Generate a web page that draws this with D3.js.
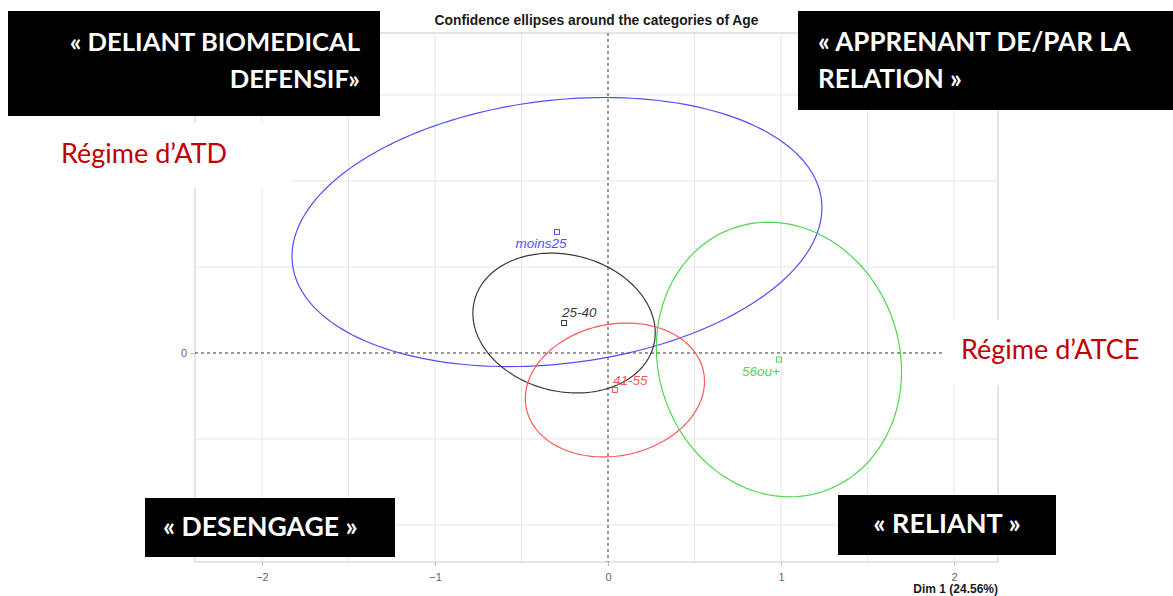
<!DOCTYPE html>
<html>
<head>
<meta charset="utf-8">
<script src="https://cdn.jsdelivr.net/npm/d3@7"></script>
<style>
  html, body { margin: 0; padding: 0; background: #fff; }
  svg { display: block; }
</style>
</head>
<body>
<svg id="chart" width="1173" height="596"></svg>
<script>
// Category coordinates on the first two dimensions
const categories = ["moins25", "25-40", "41-55", "56ou+"];
const dim1 = [-0.295, -0.254, 0.040, 0.988];
const dim2 = [0.703, 0.174, -0.215, -0.038];

// Confidence ellipse around each category: semi-axes and rotation (degrees)
const ellipseMajor = [1.540, 0.534, 0.523, 0.808];
const ellipseMinor = [0.765, 0.397, 0.382, 0.697];
const ellipseAngle = [7, -14, 12, -72];

const xTicks = [-2, -1, 0, 1, 2];
const yTicks = [0];
const xGrid = [-2, -1.5, -1, -0.5, 0.5, 1, 1.5, 2];
const yGrid = [-1, -0.5, 0.5, 1, 1.5];

const colors = ["#4f4fff", "#3a3a3a", "#ff5858", "#4fd64f"];
// where each category label sits relative to its point (px)
const labelPlacement = {
  "moins25": { dx: -16, dy: 16, anchor: "middle" },
  "25-40":   { dx: -2,  dy: -6, anchor: "start" },
  "41-55":   { dx: -2,  dy: -5, anchor: "start" },
  "56ou+":   { dx: 1,   dy: 16, anchor: "end" }
};

const svg = d3.select("#chart");
const panel = { left: 195, right: 998, top: 33, bottom: 562 };

const x = d3.scaleLinear().domain([-2.387, 2.254]).range([panel.left, panel.right]);
const y = d3.scaleLinear().domain([-1.215, 1.86]).range([panel.bottom, panel.top]);

// title
svg.append("text")
  .attr("x", (panel.left + panel.right) / 2).attr("y", 25)
  .attr("text-anchor", "middle")
  .style("font-family", "'Liberation Sans', Arial, sans-serif")
  .style("font-weight", "bold").style("font-size", "13.8px")
  .attr("fill", "#1a1a1a")
  .text("Confidence ellipses around the categories of Age");

// grid
const grid = svg.append("g").attr("stroke", "#e6e6e6").attr("stroke-width", 1);
grid.selectAll("line.v").data(xGrid).join("line")
  .attr("x1", d => x(d)).attr("x2", d => x(d))
  .attr("y1", panel.top).attr("y2", panel.bottom);
grid.selectAll("line.h").data(yGrid).join("line")
  .attr("y1", d => y(d)).attr("y2", d => y(d))
  .attr("x1", panel.left).attr("x2", panel.right);

// panel border
svg.append("rect")
  .attr("x", panel.left).attr("y", panel.top)
  .attr("width", panel.right - panel.left).attr("height", panel.bottom - panel.top)
  .attr("fill", "none").attr("stroke", "#d4d4d4").attr("stroke-width", 1.2);

// axes
const xAxis = d3.axisBottom(x).tickValues(xTicks).tickSize(4).tickPadding(7).tickFormat(d3.format("d"));
const gx = svg.append("g").attr("transform", `translate(0,${panel.bottom})`).call(xAxis);
const yAxis = d3.axisLeft(y).tickValues(yTicks).tickSize(4).tickPadding(4).tickFormat(d3.format("d"));
const gy = svg.append("g").attr("transform", `translate(${panel.left},0)`).call(yAxis);
[gx, gy].forEach(g => {
  g.select(".domain").remove();
  g.selectAll(".tick line").attr("stroke", "#bdbdbd");
  g.selectAll(".tick text").attr("fill", "#666")
    .style("font-family", "'Liberation Sans', Arial, sans-serif").style("font-size", "11px");
});

svg.append("text")
  .attr("x", panel.right).attr("y", 593)
  .attr("text-anchor", "end")
  .style("font-family", "'Liberation Sans', Arial, sans-serif")
  .style("font-weight", "bold").style("font-size", "12px")
  .attr("fill", "#1a1a1a")
  .text("Dim 1 (24.56%)");

// origin lines
const dashed = svg.append("g").attr("stroke", "#333").attr("stroke-width", 1).attr("stroke-dasharray", "3,3");
dashed.append("line").attr("x1", panel.left).attr("x2", panel.right).attr("y1", y(0)).attr("y2", y(0));
dashed.append("line").attr("x1", x(0)).attr("x2", x(0)).attr("y1", panel.top).attr("y2", panel.bottom);

// ellipses
const angles = d3.range(0, 360, 2).map(a => a * Math.PI / 180);
const line = d3.line().x(p => x(p[0])).y(p => y(p[1])).curve(d3.curveLinearClosed);
categories.forEach((c, i) => {
  const th = ellipseAngle[i] * Math.PI / 180;
  const a = ellipseMajor[i], b = ellipseMinor[i];
  const pts = angles.map(t => [
    dim1[i] + a * Math.cos(t) * Math.cos(th) - b * Math.sin(t) * Math.sin(th),
    dim2[i] + a * Math.cos(t) * Math.sin(th) + b * Math.sin(t) * Math.cos(th)
  ]);
  svg.append("path").attr("d", line(pts))
    .attr("fill", "none").attr("stroke", colors[i]).attr("stroke-width", 1.2);
});

// category points and labels
categories.forEach((c, i) => {
  const px = x(dim1[i]), py = y(dim2[i]);
  svg.append("rect")
    .attr("x", px - 2.5).attr("y", py - 2.5).attr("width", 5).attr("height", 5)
    .attr("fill", "none").attr("stroke", colors[i]).attr("stroke-width", 1);
  const lp = labelPlacement[c];
  svg.append("text")
    .attr("x", px + lp.dx).attr("y", py + lp.dy)
    .attr("text-anchor", lp.anchor)
    .style("font-family", "'Liberation Sans', Arial, sans-serif")
    .style("font-style", "italic").style("font-size", "13.5px")
    .attr("fill", colors[i])
    .text(c);
});

// regime labels on white patches
const regimes = [
  { text: "Régime d’ATD", box: [50, 123, 240, 65], tx: 61, ty: 163 },
  { text: "Régime d’ATCE", box: [942, 320, 231, 65], tx: 961, ty: 359 }
];
regimes.forEach(r => {
  svg.append("rect").attr("x", r.box[0]).attr("y", r.box[1])
    .attr("width", r.box[2]).attr("height", r.box[3]).attr("fill", "#fff");
  svg.append("text").attr("x", r.tx).attr("y", r.ty)
    .style("font-family", "Lato, 'Open Sans', sans-serif")
    .style("font-size", "27px").attr("fill", "#c00000")
    .text(r.text);
});

// profile boxes
const profiles = [
  { lines: ["« DELIANT BIOMEDICAL", "DEFENSIF»"], box: [8, 11, 372, 105], anchor: "end", tx: 360, ty: 51, size: 25.6 },
  { lines: ["« APPRENANT DE/PAR LA", "RELATION »"], box: [798, 11, 375, 99], anchor: "start", tx: 818, ty: 51, size: 26 },
  { lines: ["« DESENGAGE »"], box: [145, 498, 250, 59], anchor: "start", tx: 163, ty: 536, size: 26.6 },
  { lines: ["« RELIANT »"], box: [838, 495, 218, 60], anchor: "middle", tx: 947, ty: 533, size: 27 }
];
profiles.forEach(p => {
  svg.append("rect").attr("x", p.box[0]).attr("y", p.box[1])
    .attr("width", p.box[2]).attr("height", p.box[3]).attr("fill", "#000");
  const t = svg.append("text")
    .attr("text-anchor", p.anchor)
    .style("font-family", "Lato, 'Open Sans', sans-serif")
    .style("font-weight", "bold").style("font-size", p.size + "px")
    .attr("fill", "#fff");
  p.lines.forEach((l, k) => {
    t.append("tspan").attr("x", p.tx).attr("y", p.ty + k * 37).text(l);
  });
});
</script>
</body>
</html>
